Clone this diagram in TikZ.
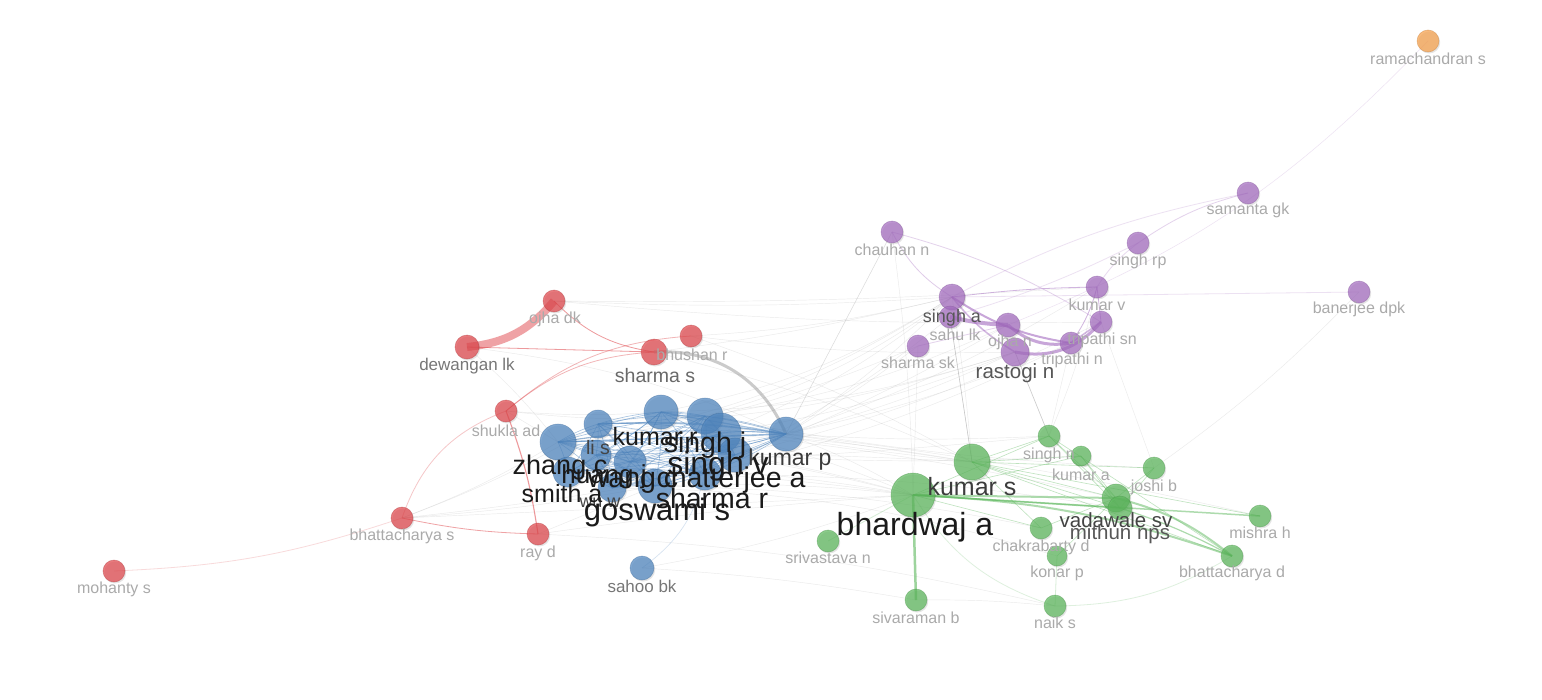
\documentclass[tikz,border=0pt]{standalone}
\usepackage{fontspec}
\setmainfont{Liberation Sans}
\usetikzlibrary{backgrounds,shadows}
\definecolor{cred}{HTML}{E0474C}
\definecolor{cblue}{HTML}{4F86C0}
\definecolor{cgreen}{HTML}{5DB85D}
\definecolor{cpurple}{HTML}{A46CC0}
\definecolor{corange}{HTML}{F7A04A}
\definecolor{lgray}{HTML}{AAAAAA}
\definecolor{mgray}{HTML}{777777}
\definecolor{dgray}{HTML}{444444}
\definecolor{bk}{HTML}{1A1A1A}
\tikzset{
  vnode/.style={circle, inner sep=0pt, fill opacity=0.72, draw opacity=0.45, line width=0.6pt,
    drop shadow={shadow xshift=1.2pt, shadow yshift=-1.5pt, opacity=0.10, fill=black}},
  vlabel/.style={inner sep=0pt, anchor=center},
  gedge/.style={draw=black!40, opacity=0.2, line width=0.45pt},
  redge/.style={draw=cred, opacity=0.55, line width=0.8pt},
  pedge/.style={draw=cpurple, opacity=0.5, line width=0.8pt},
  gredge/.style={draw=cgreen, opacity=0.5, line width=0.8pt},
  bedge/.style={draw=cblue, opacity=0.5, line width=0.6pt},
}
\newcommand\vn[5]{\node[vnode, fill=#5, draw=#5!80!black, minimum size=#4*2pt] (#1) at (#2,#3) {};}
\newcommand\vl[6]{\node[vlabel, text=#5, font=\fontsize{#4}{#4}\selectfont] (l-#1) at (#2,#3) {#6};}
\begin{document}
\begin{tikzpicture}[x=1pt,y=-1pt]
\useasboundingbox (0,0) rectangle (1542,699);
% ---------- nodes ----------
% red
\vn{odk}{554}{301}{11}{cred}
\vn{dlk}{467}{347}{12}{cred}
\vn{bhr}{691}{336}{11}{cred}
\vn{shs}{654}{352}{13}{cred}
\vn{sad}{506}{411}{11}{cred}
\vn{bhs}{402}{518}{11}{cred}
\vn{rayd}{538}{534}{11}{cred}
\vn{mos}{114}{571}{11}{cred}
% orange
\vn{ram}{1428}{41}{11}{corange}
% purple
\vn{sgk}{1248}{193}{11}{cpurple}
\vn{srp}{1138}{243}{11}{cpurple}
\vn{bdpk}{1359}{292}{11}{cpurple}
\vn{chn}{892}{232}{11}{cpurple}
\vn{kv}{1097}{287}{11}{cpurple}
\vn{sa}{952}{297}{13}{cpurple}
\vn{slk}{950}{317}{11}{cpurple}
\vn{ojn}{1008}{325}{12}{cpurple}
\vn{tsn}{1101}{322}{11}{cpurple}
\vn{tn}{1071}{343}{11}{cpurple}
\vn{rn}{1015}{352}{14}{cpurple}
\vn{ssk}{918}{346}{11}{cpurple}
% green
\vn{sn}{1049}{436}{11}{cgreen}
\vn{ka}{1081}{456}{10}{cgreen}
\vn{jb}{1154}{468}{11}{cgreen}
\vn{ks}{972}{462}{18}{cgreen}
\vn{ba}{913}{495}{22}{cgreen}
\vn{vsv}{1116}{498}{14}{cgreen}
\vn{mnps}{1120}{508}{12}{cgreen}
\vn{mh}{1260}{516}{11}{cgreen}
\vn{cd}{1041}{528}{11}{cgreen}
\vn{kop}{1057}{556}{10}{cgreen}
\vn{bd}{1232}{556}{11}{cgreen}
\vn{svn}{828}{541}{11}{cgreen}
\vn{sb}{916}{600}{11}{cgreen}
\vn{nk}{1055}{606}{11}{cgreen}
% blue
\vn{sbk}{642}{568}{12}{cblue}
\vn{zc}{558}{442}{18}{cblue}
\vn{lis}{598}{424}{14}{cblue}
\vn{kr}{661}{412}{17}{cblue}
\vn{sj}{705}{416}{18}{cblue}
\vn{sv}{721}{433}{20}{cblue}
\vn{kp}{786}{434}{17}{cblue}
\vn{hj}{596}{455}{15}{cblue}
\vn{wc}{630}{462}{16}{cblue}
\vn{ca}{735}{455}{17}{cblue}
\vn{sma}{568}{472}{15}{cblue}
\vn{ww}{612}{488}{14}{cblue}
\vn{sr}{705}{474}{16}{cblue}
\vn{gs}{655}{486}{17}{cblue}
% ---------- edges ----------
\begin{pgfonlayer}{background}
\fill[white] (0,0) rectangle (1542,699);
% gray inter-cluster edges
\foreach \a/\b/\c in {kp/sa/-5, kp/ssk/-3, kp/rn/-5, kp/chn/0, kp/tn/-5, sv/sa/-8, sv/rn/-6, ca/slk/-6,
  sj/ojn/-8, kr/sa/-10, zc/ssk/-8, sr/tn/-6, kp/kv/-6, gs/ojn/-5, ca/tsn/-6, sj/sa/-10, lis/rn/-8,
  kp/ks/0, kp/ba/5, sv/ks/3, sv/ba/5, ca/ba/3, sr/ba/2, gs/ba/4, kp/sn/-3, ca/ka/-3, sj/jb/-4,
  sv/vsv/3, sr/mnps/4, gs/cd/5, zc/ba/6, sma/ba/6, ww/kop/8, kp/mh/3, kr/ks/-3,
  sad/zc/0, sad/kr/-4, sad/sj/-5, bhs/zc/-5, bhs/lis/-5, bhs/gs/-3, bhs/sr/-2, bhs/ba/0,
  rayd/gs/0, rayd/ba/2, rayd/nk/5, dlk/kp/8, odk/sa/-3, odk/kv/-2, shs/sa/-3, bhr/sa/-5, bhr/ks/5, dlk/zc/5,
  sbk/sb/3, sb/nk/3, sbk/ba/-5, slk/ks/0, rn/sn/0, sa/ks/2, tn/sn/0, ssk/ba/0, chn/ba/3, kv/sn/5,
  tsn/jb/0, bdpk/jb/5, chn/kp/0, kr/rn/-8, zc/sa/-12, hj/ks/2, wc/sn/-2, shs/ks/5, bhr/rn/-4, odk/tsn/-3}
  \draw[gedge] (\a.center) to[bend left=\c] (\b.center);
\draw[gedge, opacity=0.45, line width=0.6pt] (slk.center) -- (ks.center);
\draw[gedge, opacity=0.4, line width=0.6pt] (rn.center) -- (sn.center);
% thick gray
\draw[draw=black!45, opacity=0.45, line width=3pt] (shs.center) to[bend left=35] (kp.center);
% red
\draw[draw=cred, opacity=0.5, line width=8pt] (dlk.center) to[bend right=22] (odk.center);
\draw[redge] (dlk.center) -- (shs.center);
\draw[redge] (odk.center) to[bend right=18] (shs.center);
\draw[redge, opacity=0.4] (sad.center) to[bend left=18] (shs.center);
\draw[redge, opacity=0.4] (sad.center) to[bend left=18] (bhr.center);
\draw[redge, line width=1.1pt] (sad.center) to[bend left=6] (rayd.center);
\draw[redge, opacity=0.3] (sad.center) to[bend right=25] (bhs.center);
\draw[redge, opacity=0.5] (bhs.center) to[bend right=5] (rayd.center);
\draw[redge, opacity=0.2] (bhs.center) to[bend left=8] (mos.center);
% purple
\draw[pedge, line width=4pt, opacity=0.6] (slk.center) to[bend right=5] (ojn.center);
\draw[pedge, line width=3pt, opacity=0.6] (ojn.center) to[bend right=25] (tn.center);
\draw[pedge, line width=3pt, opacity=0.6] (rn.center) to[bend right=30] (tsn.center);
\draw[pedge, line width=2pt, opacity=0.6] (sa.center) to[bend right=12] (tn.center);
\draw[pedge] (sa.center) to[bend left=3] (kv.center);
\draw[pedge, line width=1.5pt] (sa.center) to[bend right=10] (rn.center);
\draw[pedge] (kv.center) -- (tsn.center);
\draw[pedge, line width=1.5pt] (tn.center) -- (tsn.center);
\draw[pedge] (kv.center) to[bend left=10] (tn.center);
\draw[pedge, opacity=0.35] (chn.center) to[bend right=15] (sa.center);
\draw[pedge, opacity=0.3] (chn.center) to[bend left=8] (tsn.center);
\draw[pedge, opacity=0.3] (sgk.center) to[bend right=10] (srp.center);
\draw[pedge, opacity=0.25] (srp.center) to[bend right=10] (kv.center);
\draw[pedge, opacity=0.2] (sgk.center) to[bend right=8] (sa.center);
\draw[pedge, opacity=0.2, line width=0.5pt] (ram.center) to[bend left=12] (ojn.center);
\draw[pedge, opacity=0.2] (bdpk.center) -- (sa.center);
\draw[pedge, opacity=0.2] (srp.center) to[bend left=5] (slk.center);
\draw[pedge, opacity=0.3] (ssk.center) -- (ojn.center);
% green
\draw[gredge, line width=2.5pt, opacity=0.6] (ba.center) -- (sb.center);
\draw[gredge, line width=2pt] (ba.center) -- (vsv.center);
\draw[gredge, line width=1.5pt] (ba.center) -- (mnps.center);
\draw[gredge, line width=1.5pt] (ba.center) -- (mh.center);
\draw[gredge, line width=2pt] (ba.center) to[bend left=8] (bd.center);
\draw[gredge, line width=2pt] (vsv.center) to[bend left=12] (bd.center);
\draw[gredge, line width=1.2pt] (mnps.center) to[bend left=5] (bd.center);
\foreach \a/\b in {ks/vsv, ks/mnps, ks/sn, ks/ka, ks/jb, sn/vsv, sn/mnps, ka/vsv, jb/vsv, cd/vsv, cd/ks,
  ba/cd, ks/mh, sn/bd, ka/mnps, jb/mnps, kop/vsv, ks/bd, ba/sn, ba/ka}
  \draw[gredge, line width=0.6pt, opacity=0.4] (\a.center) -- (\b.center);
\draw[gredge, opacity=0.2] (ba.center) to[bend right=20] (nk.center);
\draw[gredge, opacity=0.2] (nk.center) to[bend right=15] (bd.center);
\draw[gredge, opacity=0.25] (svn.center) -- (ba.center);
\draw[gredge, opacity=0.25] (kop.center) -- (nk.center);
% blue
\foreach \a [count=\i] in {zc,lis,kr,sj,sv,kp,hj,wc,ca,sma,ww,sr,gs}{
  \foreach \b [count=\j] in {zc,lis,kr,sj,sv,kp,hj,wc,ca,sma,ww,sr,gs}{
    \ifnum\j>\i \draw[bedge] (\a.center) to[bend left=6] (\b.center); \fi}}
\draw[bedge, line width=1.4pt, opacity=0.6] (zc.center) -- (kp.center);
\draw[bedge, line width=1.2pt] (lis.center) to[bend left=5] (kp.center);
\draw[bedge, line width=1.2pt] (kr.center) -- (kp.center);
\draw[bedge, opacity=0.25] (sbk.center) to[bend right=20] (sr.center);
\end{pgfonlayer}
% ---------- labels ----------
\vl{odk}{555}{319}{16}{lgray}{ojha dk}
\vl{dlk}{467}{366}{17}{mgray}{dewangan lk}
\vl{bhr}{692}{355}{16}{lgray}{bhushan r}
\vl{shs}{655}{376}{19.5}{dgray!80}{sharma s}
\vl{sad}{506}{431}{16}{lgray}{shukla ad}
\vl{bhs}{402}{536}{16}{lgray}{bhattacharya s}
\vl{rayd}{538}{553}{16}{lgray}{ray d}
\vl{mos}{114}{589}{16}{lgray}{mohanty s}
\vl{ram}{1428}{59}{16}{lgray}{ramachandran s}
\vl{sgk}{1248}{210}{16}{lgray}{samanta gk}
\vl{srp}{1138}{261}{16}{lgray}{singh rp}
\vl{bdpk}{1359}{309}{16}{lgray}{banerjee dpk}
\vl{chn}{892}{250}{16}{lgray}{chauhan n}
\vl{kv}{1097}{305}{16}{lgray}{kumar v}
\vl{slk}{955}{335}{16}{lgray}{sahu lk}
\vl{ojn}{1010}{342}{16}{lgray}{ojha n}
\vl{tsn}{1102}{340}{16}{lgray}{tripathi sn}
\vl{tn}{1072}{360}{16}{lgray}{tripathi n}
\vl{ssk}{918}{363}{16}{lgray}{sharma sk}
\vl{sa}{952}{318}{18}{dgray!90}{singh a}
\vl{rn}{1015}{373}{20.5}{dgray!90}{rastogi n}
\vl{sn}{1049}{455}{16}{lgray}{singh n}
\vl{ka}{1081}{475}{16}{lgray}{kumar a}
\vl{jb}{1154}{487}{16}{lgray}{joshi b}
\vl{mh}{1260}{533}{16}{lgray}{mishra h}
\vl{cd}{1041}{547}{16}{lgray}{chakrabarty d}
\vl{kop}{1057}{573}{16}{lgray}{konar p}
\vl{bd}{1232}{573}{16}{lgray}{bhattacharya d}
\vl{svn}{828}{558}{16}{lgray}{srivastava n}
\vl{sb}{916}{618}{16}{lgray}{sivaraman b}
\vl{nk}{1055}{623}{16}{lgray}{naik s}
\vl{ks}{972}{487}{25}{bk!85}{kumar s}
\vl{vsv}{1116}{520}{20.5}{dgray}{vadawale sv}
\vl{mnps}{1120}{534}{20.5}{dgray!90}{mithun nps}
\vl{ba}{915}{527}{32}{bk}{bhardwaj a}
\vl{sbk}{642}{586}{17}{mgray}{sahoo bk}
\vl{lis}{598}{448}{19.5}{dgray}{li s}
\vl{kr}{655}{437}{25}{bk}{kumar r}
\vl{sj}{705}{445}{28.5}{bk}{singh j}
\vl{kp}{790}{460}{23}{bk!85}{kumar p}
\vl{zc}{560}{468}{27}{bk}{zhang c}
\vl{hj}{604}{477}{26}{bk}{huang j}
\vl{ww}{600}{503}{18}{dgray}{wu w}
\vl{sma}{562}{494}{25}{bk}{smith a}
\vl{wc}{633}{483}{28.5}{bk}{wang c}
\vl{ca}{731}{480}{28.5}{bk}{chatterjee a}
\vl{sv}{718}{466}{32}{bk}{singh v}
\vl{sr}{712}{498}{28.5}{bk}{sharma r}
\vl{gs}{657}{512}{31}{bk}{goswami s}
\end{tikzpicture}
\end{document}
